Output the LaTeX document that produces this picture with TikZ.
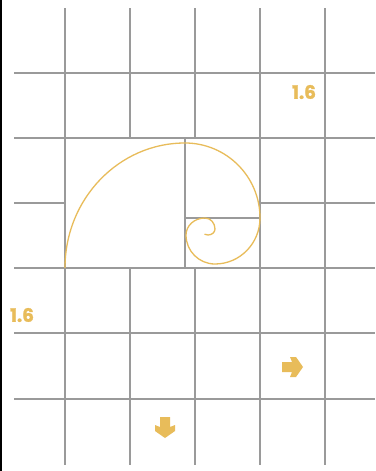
\documentclass[tikz,border=0pt]{standalone}
\usepackage{fontspec}
\newfontfamily\popfont[BoldFeatures={FakeBold=1.2}]{Poppins}
\definecolor{gridgray}{HTML}{9A9A9A}
\definecolor{gold}{HTML}{E8BC5A}
\tikzset{
  gridline/.style={draw=gridgray, line width=1.8pt},
  spiral/.style={draw=gold, line width=1.3pt},
  arrowshape/.style={fill=gold, draw=none},
  ratiolabel/.style={text=gold, font=\popfont\bfseries\fontsize{18.5}{18.5}\selectfont, inner sep=0pt}
}
\begin{document}
\begin{tikzpicture}[x=1pt,y=-1pt]
\useasboundingbox (0,0) rectangle (375,471);
\fill[white] (0,0) rectangle (375,471);
\fill[black] (0,0) rectangle (2,471);
% horizontal lines
\foreach \yy in {73,138,268,333,399} {\draw[gridline] (14,\yy) -- (375,\yy);}
\draw[gridline] (14,203) -- (65,203);
\draw[gridline] (260,203) -- (375,203);
% vertical lines
\foreach \xx in {65,260,325} {\draw[gridline] (\xx,8) -- (\xx,465);}
\foreach \xx in {130,195} {\draw[gridline] (\xx,8) -- (\xx,138); \draw[gridline] (\xx,268) -- (\xx,465);}
% golden rectangle subdivisions
\draw[gridline] (185,138) -- (185,268);
\draw[gridline] (185,218) -- (260,218);
% spiral
\draw[spiral] (65,268) arc[start angle=180, end angle=270, x radius=120, y radius=125]
  arc[start angle=270, end angle=360, radius=75]
  arc[start angle=0, end angle=90, x radius=45, y radius=46]
  arc[start angle=90, end angle=180, radius=29]
  arc[start angle=180, end angle=270, x radius=19, y radius=17]
  arc[start angle=270, end angle=360, x radius=10, y radius=11]
  arc[start angle=0, end angle=120, x radius=7, y radius=6];
% labels
\node[ratiolabel] (r1) at (304,92) {1.6};
\node[ratiolabel] (r2) at (22,315) {1.6};
% arrows
\fill[arrowshape] (282,362) -- (292,362) -- (290,357) -- (296,357) -- (303,367) -- (296,377) -- (290,377) -- (292,372) -- (282,372) -- cycle;
\fill[arrowshape] (160,417) -- (160,427) -- (155,425) -- (155,431) -- (165,438) -- (175,431) -- (175,425) -- (170,427) -- (170,417) -- cycle;
\end{tikzpicture}
\end{document}
